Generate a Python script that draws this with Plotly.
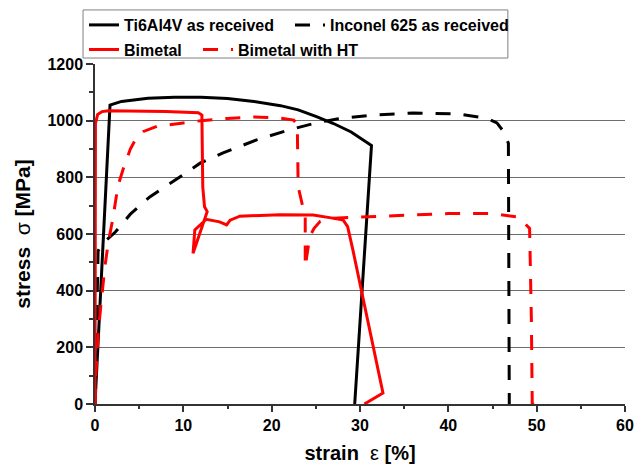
import plotly.graph_objects as go

# ---- data ----
ti_strain = [0, 1.7, 3, 6, 9, 12, 15, 18, 21, 23, 25, 27, 29, 31.3, 29.4]
ti_stress = [0, 1055, 1068, 1079, 1083, 1083, 1078, 1068, 1053, 1038, 1015, 990, 960, 912, 0]

inc_strain = [0, 0.35, 0.8, 1.5, 2.3, 4.0, 6.2, 9.6, 11.9, 14.5, 18.3, 21.7, 25.0, 27.4,
              31.4, 36, 41, 44.3, 45.5, 46.3, 46.8, 46.9]
inc_stress = [0, 540, 565, 585, 607, 670, 731, 801, 850, 886, 932, 965, 992, 1006,
              1020, 1027, 1024, 1009, 992, 960, 920, 0]

bi_strain = [0, 0.05, 0.3, 0.8, 1.5, 4, 8, 11.7, 12.1, 12.2, 12.4, 12.7, 11.1, 11.3, 12.1,
             12.6, 14.1, 14.9, 15.3, 16.4, 20.9, 24.7, 26.9, 28.1, 28.6, 29.2, 32.6, 30.5]
bi_stress = [0, 990, 1022, 1032, 1035, 1034, 1032, 1028, 1020, 766, 696, 679, 532, 614, 638,
             652, 643, 632, 649, 663, 668, 667, 656, 649, 626, 543, 39, 0]

ht_strain = [0, 0.1, 0.35, 0.8, 1.1, 1.5, 2.0, 2.6, 3.2, 4.0, 4.7, 5.5, 7.0, 10, 12, 15, 18,
             21, 22.5, 22.9, 23.0, 23.4, 23.8, 23.8, 24.3, 24.8, 25.5, 27, 30, 35, 40, 45,
             47.9, 49.2, 49.4, 49.5, 51.2]
ht_stress = [0, 100, 250, 400, 480, 570, 650, 770, 830, 900, 940, 962, 980, 992, 1000, 1008,
             1013, 1009, 1002, 985, 766, 713, 656, 484, 590, 620, 645, 656, 660, 667, 672, 672,
             660, 620, 300, 0, 0]

series_names = ["Ti6Al4V as received", "Inconel 625 as received", "Bimetal", "Bimetal with HT"]

x_ticks = [0, 10, 20, 30, 40, 50, 60]
y_ticks = [0, 200, 400, 600, 800, 1000, 1200]

FONT = "Liberation Sans, Arial, sans-serif"
DASH = "15px,13px"
W, H = 644, 464

fig = go.Figure()
fig.add_trace(go.Scatter(x=ti_strain, y=ti_stress, mode="lines", name=series_names[0],
                         line=dict(color="black", width=3), legend="legend", showlegend=True))
fig.add_trace(go.Scatter(x=inc_strain, y=inc_stress, mode="lines", name=series_names[1],
                         line=dict(color="black", width=3, dash=DASH), legend="legend2",
                         showlegend=True))
fig.add_trace(go.Scatter(x=bi_strain, y=bi_stress, mode="lines", name=series_names[2],
                         line=dict(color="red", width=3), legend="legend3", showlegend=True))
fig.add_trace(go.Scatter(x=ht_strain, y=ht_stress, mode="lines", name=series_names[3],
                         line=dict(color="red", width=3, dash=DASH), legend="legend4",
                         showlegend=True))


def leg(px_left, px_top):
    return dict(orientation="h", xanchor="left", yanchor="top",
                xref="container", yref="container",
                x=px_left / W, y=1 - px_top / H,
                font=dict(family=FONT, size=16, color="black", weight="bold"),
                bgcolor="rgba(0,0,0,0)", borderwidth=0, visible=True)


fig.update_layout(
    width=W, height=H,
    showlegend=True,
    margin=dict(l=95, r=19, t=64, b=60, autoexpand=False),
    paper_bgcolor="white", plot_bgcolor="white",
    font=dict(family=FONT, color="black"),
    legend=leg(84, 8),
    legend2=leg(290, 8),
    legend3=leg(84, 32.5),
    legend4=leg(198, 32.5),
    xaxis=dict(range=[0, 60], tickvals=x_ticks, ticktext=[str(v) for v in x_ticks],
               automargin=False, layer="below traces",
               ticks="outside", ticklen=6, tickwidth=1.5, tickcolor="#333",
               showline=True, linecolor="#333", linewidth=1.5, showgrid=False, zeroline=False,
               minor=dict(dtick=5, ticks="outside", ticklen=3, tickcolor="#333", showgrid=False),
               tickfont=dict(family=FONT, size=16, weight="bold"),
               title=dict(text="<b>strain</b>\u00a0\u00a0ε\u00a0<b>[%]</b>",
                          font=dict(family=FONT, size=20), standoff=14)),
    yaxis=dict(range=[0, 1200], tickvals=y_ticks, ticktext=[str(v) for v in y_ticks],
               automargin=False,
               ticks="outside", ticklen=7, tickwidth=1.5, tickcolor="#333",
               showline=True, linecolor="#333", linewidth=1.5,
               showgrid=True, gridcolor="#6e6e6e", gridwidth=1, zeroline=False,
               minor=dict(dtick=100, ticks="outside", ticklen=4, tickcolor="#333", showgrid=False),
               tickfont=dict(family=FONT, size=16, weight="bold"),
               title=dict(text="<b>stress</b>\u00a0\u00a0σ\u00a0<b>[MPa]</b>",
                          font=dict(family=FONT, size=21), standoff=11)),
    shapes=[dict(type="rect", xref="paper", yref="paper",
                 x0=-0.0226, x1=0.779, y0=1.0176, y1=1.159,
                 line=dict(color="#808080", width=1), fillcolor="rgba(0,0,0,0)")],
)

fig.write_html("out.html")
